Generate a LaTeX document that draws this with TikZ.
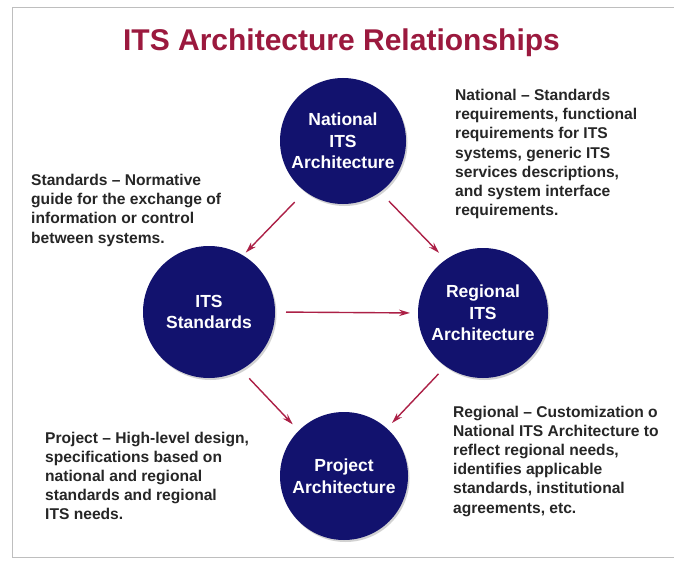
\documentclass[tikz,border=0pt]{standalone}
\usepackage{fontspec}
\setmainfont{Liberation Sans}
\usetikzlibrary{arrows.meta,shadows}
\definecolor{navy}{RGB}{18,18,110}
\definecolor{arrowred}{RGB}{172,32,70}
\definecolor{titlered}{RGB}{155,25,62}
\definecolor{bodygray}{RGB}{38,38,38}
\definecolor{framegray}{RGB}{190,190,190}
\begin{document}
\begin{tikzpicture}[x=1pt,y=-1pt,
  hub/.style={circle, fill=navy, inner sep=0pt, outer sep=0pt, text=white,
    font=\fontsize{17.5}{21.5}\selectfont\bfseries, align=center,
    drop shadow={opacity=0.35, shadow xshift=1.5pt, shadow yshift=-2pt}},
  note/.style={anchor=base west, inner sep=0pt, align=left, text=bodygray,
    font=\fontsize{15.6}{19.2}\selectfont\bfseries},
  link/.style={draw=arrowred, line width=1.4pt, -{Stealth[length=11pt,width=6.5pt]}}]
\useasboundingbox[fill=white] (0,0) rectangle (674,564);
\draw[framegray, line width=1pt] (680,8) -- (12,8) -- (12,557) -- (680,557);

\node[anchor=base, text=titlered, font=\fontsize{30}{36}\selectfont\bfseries] (title) at (341.5,51) {ITS Architecture Relationships};

\node[hub, minimum size=126pt] (nat) at (343,141) {National\\ITS\\Architecture};
\node[hub, minimum size=132pt] (std) at (209,312) {ITS\\Standards};
\node[hub, minimum size=130pt] (reg) at (483,313) {Regional\\ITS\\Architecture};
\node[hub, minimum size=128pt] (proj) at (344,476) {Project\\Architecture};

% base anchor of a multi-line note = baseline of its last line
\node[note] (natnote) at (455,215.7) {National – Standards\\requirements, functional\\requirements for ITS\\systems, generic ITS\\services descriptions,\\and system interface\\requirements.};
\node[note] (stdnote) at (31,243.1) {Standards – Normative\\guide for the exchange of\\information or control\\between systems.};
\node[note] (regnote) at (453,513) {Regional – Customization o\\National ITS Architecture to\\reflect regional needs,\\identifies applicable\\standards, institutional\\agreements, etc.};
\node[note] (projnote) at (45,519.8) {Project – High-level design,\\specifications based on\\national and regional\\standards and regional\\ITS needs.};

\draw[link, shorten <=15pt, shorten >=4pt] (nat.233) -- (std.59);
\draw[link, shorten <=12.8pt, shorten >=9.6pt] (nat.306) -- (reg.125);
\draw[link, shorten <=11pt, shorten >=8pt] (std.east) -- (reg.west);
\draw[link, shorten <=11.9pt, shorten >=8.8pt] (std.299) -- (proj.135);
\draw[link, shorten <=10.5pt, shorten >=7.5pt] (reg.235) -- (proj.48);
\end{tikzpicture}
\end{document}
